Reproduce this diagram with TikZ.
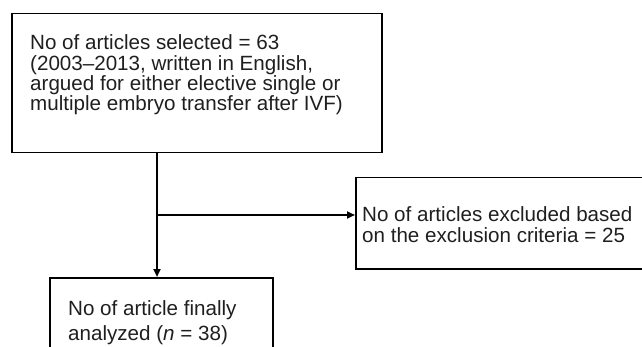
\documentclass[tikz,border=0pt]{standalone}
\usepackage{fontspec}
\setmainfont{Liberation Sans}
\usetikzlibrary{arrows.meta}
\begin{document}
\begin{tikzpicture}[x=1pt,y=-1pt,
  boxst/.style={draw, line width=1.5pt, rectangle, inner sep=0pt, anchor=north west},
  txt/.style={anchor=base west, inner sep=0pt, align=left, text=black!88},
  conn/.style={line width=2pt, -{Triangle[length=8pt,width=7pt]}}]
\useasboundingbox (0,0) rectangle (642,347);
\clip (0,0) rectangle (642,347);
\node[boxst, minimum width=370pt, minimum height=139pt] (top) at (11,13) {};
\node[boxst, minimum width=300pt, minimum height=91pt] (excl) at (355,177) {};
\node[boxst, minimum width=223pt, minimum height=100pt] (final) at (49,277) {};
% anchored at the baseline of the last line
\node[txt, font=\fontsize{20.6}{20.2}\selectfont] (toptxt) at (30,110.6) {No of articles selected = 63\\(2003–2013, written in English,\\argued for either elective single or\\multiple embryo transfer after IVF)};
\node[txt, font=\fontsize{20.6}{21}\selectfont] (excltxt) at (362,243) {No of articles excluded based\\on the exclusion criteria = 25};
\node[txt, font=\fontsize{20.6}{24.5}\selectfont] (finaltxt) at (68,340) {No of article finally\\analyzed (\textit{n} = 38)};
\coordinate (split) at (157,215);
\draw[conn] (top.south -| split) -- (final.north -| split);
\draw[conn] (split) -- (split -| excl.west);
\end{tikzpicture}
\end{document}
